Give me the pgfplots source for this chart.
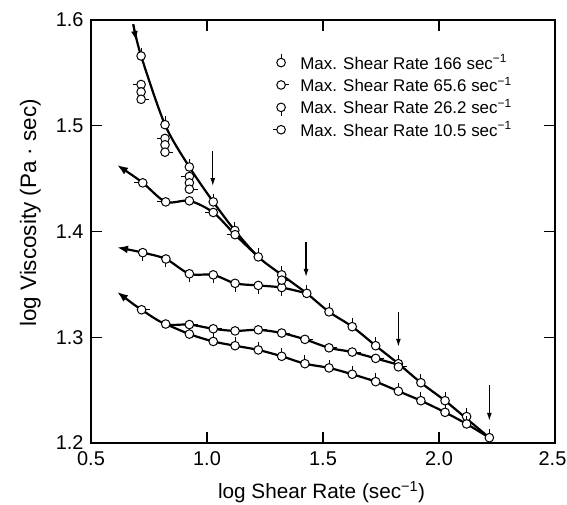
\documentclass[border=0pt]{standalone}
\usepackage{fontspec}
\setmainfont{Liberation Sans}
\usepackage{pgfplots}
\pgfplotsset{compat=1.18}
\usetikzlibrary{arrows.meta}

\pgfdeclareplotmark{cu}{%
  \pgfpathmoveto{\pgfqpoint{0pt}{\pgfplotmarksize}}\pgfpathlineto{\pgfqpoint{0pt}{1.95\pgfplotmarksize}}\pgfusepathqstroke
  \pgfpathcircle{\pgfpointorigin}{\pgfplotmarksize}\pgfusepathqfillstroke}
\pgfdeclareplotmark{cd}{%
  \pgfpathmoveto{\pgfqpoint{0pt}{-\pgfplotmarksize}}\pgfpathlineto{\pgfqpoint{0pt}{-1.95\pgfplotmarksize}}\pgfusepathqstroke
  \pgfpathcircle{\pgfpointorigin}{\pgfplotmarksize}\pgfusepathqfillstroke}
\pgfdeclareplotmark{cr}{%
  \pgfpathmoveto{\pgfqpoint{\pgfplotmarksize}{0pt}}\pgfpathlineto{\pgfqpoint{1.95\pgfplotmarksize}{0pt}}\pgfusepathqstroke
  \pgfpathcircle{\pgfpointorigin}{\pgfplotmarksize}\pgfusepathqfillstroke}
\pgfdeclareplotmark{cl}{%
  \pgfpathmoveto{\pgfqpoint{-\pgfplotmarksize}{0pt}}\pgfpathlineto{\pgfqpoint{-1.95\pgfplotmarksize}{0pt}}\pgfusepathqstroke
  \pgfpathcircle{\pgfpointorigin}{\pgfplotmarksize}\pgfusepathqfillstroke}

\begin{document}
\begin{tikzpicture}
\begin{axis}[
  scale only axis, width=464bp, height=423bp,
  xmin=0.5, xmax=2.5, ymin=1.2, ymax=1.6,
  xtick={0.5,1.0,1.5,2.0,2.5}, ytick={1.2,1.3,1.4,1.5,1.6},
  xticklabels={0.5,1.0,1.5,2.0,\hspace{-5bp}2.5},
  yticklabels={1.2,1.3,1.4,1.5,1.6},
  tick align=inside, major tick length=11bp,
  tick style={line width=1.1bp, black},
  axis line style={line width=1.4bp},
  ticklabel style={font=\fontsize{20}{24}\selectfont},
  yticklabel style={xshift=-4bp},
  xticklabel style={yshift=-5bp},
  xlabel={log Shear Rate (sec\textsuperscript{−1})},
  ylabel={log Viscosity (Pa · sec)},
  xlabel style={font=\fontsize{20.8}{24}\selectfont, at={(axis description cs:0.497,-0.116)}, anchor=center},
  ylabel style={font=\fontsize{22.5}{26}\selectfont, at={(axis description cs:-0.131,0.544)}, anchor=center},
  legend cell align=left,
  legend image code/.code={\draw[mark repeat=2,mark phase=2,#1] plot coordinates {(0cm,0cm) (0.3cm,0cm) (0.6cm,0cm)}; \path (0.3cm,0cm) ++(17bp,0bp);},
  legend style={at={(axis description cs:0.3847,0.928)}, anchor=north west, draw=none, fill=none,
    font=\fontsize{17}{20}\selectfont, row sep=2.5bp},
  mark size=4.3bp,
]
% legend entries
\addlegendimage{only marks, mark=cu, mark options={fill=white, line width=1bp}}
\addlegendentry{Max. Shear Rate 166 sec\textsuperscript{−1}}
\addlegendimage{only marks, mark=cr, mark options={fill=white, line width=1bp}}
\addlegendentry{Max. Shear Rate 65.6 sec\textsuperscript{−1}}
\addlegendimage{only marks, mark=cd, mark options={fill=white, line width=1bp}}
\addlegendentry{Max. Shear Rate 26.2 sec\textsuperscript{−1}}
\addlegendimage{only marks, mark=cl, mark options={fill=white, line width=1bp}}
\addlegendentry{Max. Shear Rate 10.5 sec\textsuperscript{−1}}

% curves
\addplot[no marks, smooth, line width=2.2bp, forget plot] coordinates {
 (0.682,1.596) (0.716,1.566) (0.819,1.501) (0.924,1.461) (1.027,1.428) (1.120,1.401)
 (1.221,1.376) (1.322,1.359) (1.430,1.3415) (1.526,1.324) (1.626,1.310) (1.727,1.292)
 (1.825,1.275) (1.922,1.257) (2.026,1.240) (2.119,1.223) (2.217,1.205)};
\addplot[no marks, line width=1.6bp, -{Latex[length=9bp,width=7bp]}, forget plot] coordinates {(0.682,1.596) (0.694,1.581)};
\addplot[no marks, smooth, line width=2.2bp, {Latex[length=11bp,width=8bp]}-, forget plot] coordinates {
 (0.612,1.463) (0.723,1.446) (0.822,1.428) (0.924,1.429) (1.027,1.418) (1.121,1.397) (1.221,1.376)};
\addplot[no marks, smooth, line width=2.2bp, {Latex[length=11bp,width=8bp]}-, forget plot] coordinates {
 (0.612,1.385) (0.723,1.380) (0.823,1.374) (0.924,1.360) (1.027,1.359) (1.121,1.351)
 (1.221,1.349) (1.322,1.347) (1.430,1.3415)};
\addplot[no marks, smooth, line width=2.2bp, {Latex[length=11bp,width=8bp]}-, forget plot] coordinates {
 (0.612,1.343) (0.718,1.326) (0.822,1.3125) (0.924,1.312) (1.027,1.308) (1.121,1.306)
 (1.221,1.307) (1.322,1.304) (1.422,1.298) (1.526,1.290) (1.626,1.286) (1.727,1.280) (1.825,1.274)};
\addplot[no marks, smooth, line width=2.2bp, forget plot] coordinates {
 (0.822,1.3125) (0.924,1.303) (1.027,1.296) (1.121,1.292) (1.221,1.288) (1.322,1.282)
 (1.422,1.275) (1.526,1.271) (1.626,1.265) (1.727,1.258) (1.825,1.249) (1.922,1.240)
 (2.026,1.229) (2.119,1.218) (2.217,1.205)};

% vertical arrows (max shear rates)
\addplot[no marks, line width=1.2bp, -{Latex[length=8bp,width=5bp]}, forget plot] coordinates {(1.025,1.476) (1.025,1.443)};
\addplot[no marks, line width=1.2bp, -{Latex[length=8bp,width=5bp]}, forget plot] coordinates {(1.427,1.390) (1.427,1.357)};
\addplot[no marks, line width=1.2bp, -{Latex[length=8bp,width=5bp]}, forget plot] coordinates {(1.825,1.324) (1.825,1.291)};
\addplot[no marks, line width=1.2bp, -{Latex[length=8bp,width=5bp]}, forget plot] coordinates {(2.217,1.255) (2.217,1.221)};

% markers
\addplot[only marks, mark=cu, mark options={fill=white, line width=1bp}, forget plot] coordinates {
 (0.716,1.566) (0.819,1.501) (0.924,1.461) (1.027,1.428) (1.120,1.401)
 (1.221,1.376) (1.322,1.359) (1.430,1.3415) (1.526,1.324) (1.626,1.310) (1.727,1.292)
 (1.825,1.275) (1.922,1.257) (2.026,1.240) (2.119,1.225) (2.217,1.205)
 (0.924,1.303) (1.027,1.296) (1.121,1.292) (1.221,1.288) (1.322,1.282)
 (1.422,1.275) (1.526,1.271) (1.626,1.265) (1.727,1.258) (1.825,1.249) (1.922,1.240)
 (2.026,1.229) (2.119,1.218)};
\addplot[only marks, mark=cl, mark options={fill=white, line width=1bp}, forget plot] coordinates {
 (0.723,1.446) (0.822,1.428) (0.924,1.429) (1.027,1.418) (1.121,1.397)
 (0.716,1.539) (0.819,1.488) (0.924,1.452)};
\addplot[only marks, mark=cd, mark options={fill=white, line width=1bp}, forget plot] coordinates {
 (0.723,1.380) (0.823,1.374) (0.924,1.360) (1.027,1.359) (1.121,1.351) (1.221,1.349) (1.322,1.347)
 (0.716,1.532) (0.819,1.482) (0.924,1.446)};
\addplot[only marks, mark=cr, mark options={fill=white, line width=1bp}, forget plot] coordinates {
 (0.718,1.326) (0.822,1.3125) (0.924,1.312) (1.027,1.308) (1.121,1.306) (1.221,1.307)
 (1.322,1.304) (1.422,1.298) (1.526,1.290) (1.626,1.286) (1.727,1.280) (1.825,1.272)
 (0.716,1.525) (0.819,1.475) (0.924,1.440) (1.322,1.354)};
\end{axis}
\pgfresetboundingbox
\path (-91bp,-62bp) rectangle (476bp,443bp);
\end{tikzpicture}
\end{document}
